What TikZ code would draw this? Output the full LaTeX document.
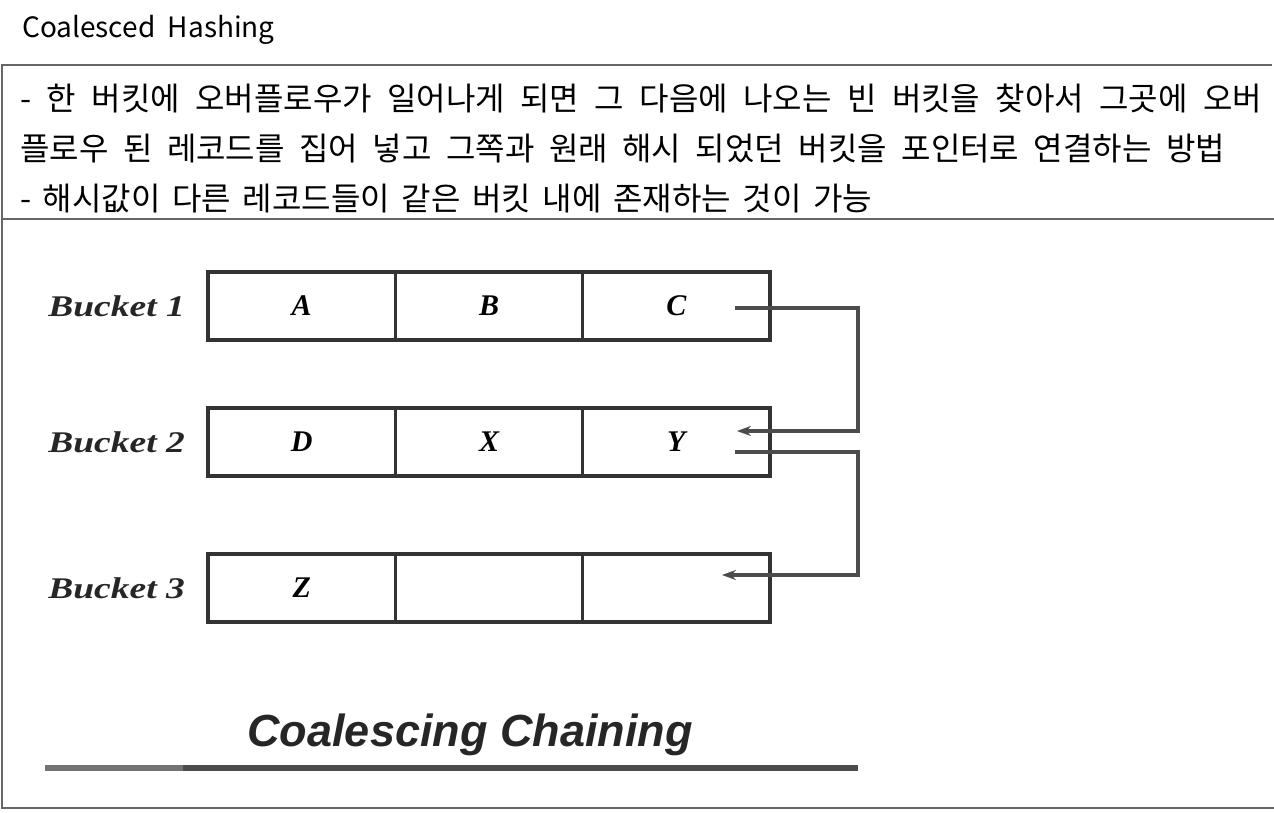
\documentclass[tikz,border=0pt]{standalone}
\usepackage{fontspec}
\usepackage{tikz}
\usetikzlibrary{arrows.meta, positioning}
\newfontfamily\krfont{Noto Sans CJK KR}
\newfontfamily\bookfont{Liberation Serif}
\newfontfamily\capfont{Liberation Sans}
\tikzset{
  frameline/.style={line width=2pt, draw=black!60},
  cell/.style={draw=black!80, line width=3.5pt, minimum width=187.3pt, minimum height=68pt,
    inner sep=0pt, outer sep=0pt, font=\bookfont\bfseries\itshape\fontsize{30}{32}\selectfont},
  bucket/.style={inner sep=0pt, text=black!85, xscale=1.25, transform shape,
    font=\bookfont\bfseries\itshape\fontsize{30}{34}\selectfont},
  link/.style={->, line width=3.5pt, draw=black!70},
  kline/.style={anchor=west, inner sep=0pt, font=\krfont\fontsize{32}{36}\selectfont},
}

\begin{document}
\begin{tikzpicture}[x=1pt, y=-1pt, >={Stealth[length=14pt,width=10pt]}]
  \useasboundingbox (0,0) rectangle (1274,812);
  % frame
  \draw[frameline] (2,65) -- (1272,65);
  \draw[frameline] (2,219) -- (1274,219);
  \draw[frameline] (2,808) -- (1274,808);
  \draw[frameline] (2,64) -- (2,809);
  % heading and notes
  \node[anchor=west, inner sep=0pt, font=\krfont\fontsize{28}{32}\selectfont] (title) at (22,30) {Coalesced~~Hashing};
  \node[kline] (l1) at (20,98) {\makebox[1242pt][s]{- 한 버킷에 오버플로우가 일어나게 되면 그 다음에 나오는 빈 버킷을 찾아서 그곳에 오버}};
  \node[kline] (l2) at (20,149) {\makebox[1205pt][s]{플로우 된 레코드를 집어 넣고 그쪽과 원래 해시 되었던 버킷을 포인터로 연결하는 방법}};
  \node[kline] (l3) at (20,199) {\makebox[852pt][s]{- 해시값이 다른 레코드들이 같은 버킷 내에 존재하는 것이 가능}};
  % Bucket 1
  \node[cell] (a1) at (301.7,306) {A};
  \node[cell, right=0pt of a1] (b1) {B};
  \node[cell, right=0pt of b1] (c1) {C};
  \node[bucket, left=23pt of a1] (k1) {Bucket 1};
  % Bucket 2
  \node[cell] (a2) at (301.7,442) {D};
  \node[cell, right=0pt of a2] (b2) {X};
  \node[cell, right=0pt of b2] (c2) {Y};
  \node[bucket, left=23pt of a2] (k2) {Bucket 2};
  % Bucket 3
  \node[cell] (a3) at (301.7,588) {Z};
  \node[cell, right=0pt of a3] (b3) {};
  \node[cell, right=0pt of b3] (c3) {};
  \node[bucket, left=23pt of a3] (k3) {Bucket 3};
  % pointers
  \coordinate (c1out) at ([xshift=-35pt,yshift=-2pt]c1.east);
  \coordinate (c2in) at ([xshift=-33pt,yshift=11pt]c2.east);
  \coordinate (c2out) at ([xshift=-35pt,yshift=-10pt]c2.east);
  \coordinate (c3in) at ([xshift=-48pt,yshift=13pt]c3.east);
  \draw[link] (c1out) -- ++(123pt,0) |- (c2in);
  \draw[link] (c2out) -- ++(123pt,0) |- (c3in);
  % caption
  \node[inner sep=0pt, text=black!85, font=\capfont\bfseries\itshape\fontsize{45}{50}\selectfont] (cap) at (470,735) {Coalescing Chaining};
  \draw[line width=6pt, draw=black!55] (45,768) -- (183,768);
  \draw[line width=6pt, draw=black!70] (183,768) -- (858,768);
\end{tikzpicture}
\end{document}
